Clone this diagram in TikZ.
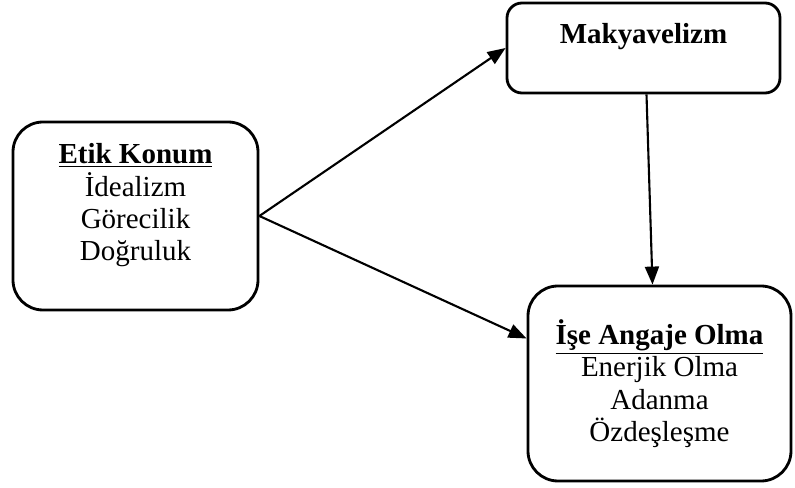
\documentclass[tikz,border=0pt]{standalone}
\usepackage{fontspec}
\setmainfont{Liberation Serif}
\usetikzlibrary{arrows.meta, positioning}

\begin{document}
\begin{tikzpicture}[
    % Define box style
    box style/.style={
        draw, % Draw border
        rectangle, % Rectangle shape
        line width=1.6pt, % Border thickness
        rounded corners=0.6cm, % Round corners
        align=center, % Center alignment
        font=\fontsize{16.5}{18.4}\selectfont % Text size
      },
    % Define arrow style
    link/.style={
        -{Triangle[length=0.36cm, width=0.28cm]}, % Filled arrow head
        line width=1.2pt % Line thickness
      }
  ]

  % Fix the picture size
  \useasboundingbox (0, 0) rectangle (15.9, 9.76);

  % Define nodes
  \node[box style, minimum width=4.9cm, minimum height=3.76cm, text depth=0.55cm] (Etik) at (2.71, 5.44)
    {\underline{\textbf{Etik Konum}}\\İdealizm\\Görecilik\\Doğruluk}; % Node on the left
  \node[box style, minimum width=5.46cm, minimum height=1.8cm, rounded corners=0.3cm, text depth=0.6cm] (Mak) at (12.87, 8.80)
    {\textbf{Makyavelizm}}; % Node at the top right
  \node[box style, minimum width=5.26cm, minimum height=3.9cm] (Ise) at (13.19, 2.09)
    {\underline{\textbf{İşe Angaje Olma}}\\Enerjik Olma\\Adanma\\Özdeşleşme}; % Node at the bottom right

  % Draw arrows
  \draw[link] (Etik.east) -- (Mak.west);
  \draw[link] (Etik.east) -- ([yshift=0.9cm]Ise.west);
  \draw[link] ([xshift=0.06cm]Mak.south) -- ([xshift=-0.14cm]Ise.north);

\end{tikzpicture}
\end{document}
